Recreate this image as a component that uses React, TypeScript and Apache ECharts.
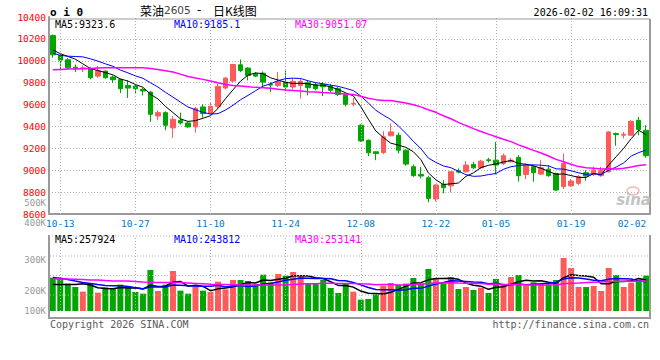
import React, { useEffect, useRef } from 'react';
import * as echarts from 'echarts';

const dates = [
  '10-10','10-13','10-14','10-15','10-16','10-17','10-20','10-21','10-22','10-23',
  '10-24','10-27','10-28','10-29','10-30','10-31','11-03','11-04','11-05','11-06',
  '11-07','11-10','11-11','11-12','11-13','11-14','11-17','11-18','11-19','11-20',
  '11-21','11-24','11-25','11-26','11-27','11-28','12-01','12-02','12-03','12-04',
  '12-05','12-08','12-09','12-10','12-11','12-12','12-15','12-16','12-17','12-18',
  '12-19','12-22','12-23','12-24','12-25','12-26','12-29','12-30','12-31','01-05',
  '01-06','01-07','01-08','01-09','01-12','01-13','01-14','01-15','01-16','01-19',
  '01-20','01-21','01-22','01-23','01-26','01-27','01-28','01-29','01-30','02-02'
];
const dateLabels = ['10-13','10-27','11-10','11-24','12-08','12-22','01-05','01-19','02-02'];

const opens = [
  10230,10048,10009,9942,9930,9927,9860,9906,9851,9830,
  9775,9769,9739,9714,9496,9526,9387,9456,9432,9396,
  9578,9517,9584,9751,9815,9963,9933,9881,9887,9784,
  9775,9805,9760,9775,9799,9781,9784,9766,9745,9690,
  9605,9411,9274,9168,9162,9314,9320,9183,9032,8962,
  8931,8737,8871,8858,8995,8986,9053,9022,9095,9092,
  9062,9077,9117,8962,9032,8965,9010,8971,8850,8858,
  8880,8977,8962,8950,8986,9335,9320,9320,9456,9365
];
const closes = [
  10054,10006,9936,9927,9936,9845,9909,9845,9827,9745,
  9751,9745,9724,9511,9526,9411,9465,9432,9396,9563,
  9517,9584,9766,9842,9966,9912,9866,9860,9805,9778,
  9812,9760,9812,9812,9754,9745,9763,9730,9693,9602,
  9611,9268,9159,9153,9305,9350,9183,9056,8950,8947,
  8743,8865,8840,8986,8983,9047,9022,9083,9089,9047,
  9132,9092,8950,9047,8977,9022,8950,8819,9062,8901,
  8941,8947,9001,8995,9350,9326,9329,9447,9371,9132
];
const lows = [
  10027,9912,9921,9897,9897,9830,9845,9836,9799,9705,
  9660,9705,9684,9441,9456,9365,9296,9417,9387,9344,
  9481,9502,9563,9739,9805,9897,9821,9851,9766,9714,
  9760,9730,9739,9654,9684,9730,9678,9714,9678,9584,
  9584,9259,9129,9092,9147,9314,9153,9041,8940,8925,
  8707,8713,8789,8798,8971,8980,9010,9010,9071,8962,
  9047,9071,8895,8919,8895,8956,8940,8810,8828,8849,
  8865,8904,8947,8940,8980,9223,9290,9311,9320,9114
];
const highs = [
  10240,10060,10024,9966,9957,9942,9951,9912,9866,9836,
  9821,9781,9751,9724,9547,9538,9496,9526,9441,9578,
  9602,9617,9790,9851,9972,10012,9942,9897,9903,9805,
  9897,9912,9842,9842,9821,9805,9805,9790,9760,9699,
  9660,9420,9280,9174,9356,9426,9344,9192,9053,9030,
  8950,8871,8910,8992,9016,9083,9077,9095,9113,9259,
  9153,9113,9138,9062,9047,9092,9047,8977,9153,8919,
  8956,9001,9032,9032,9356,9344,9350,9456,9487,9411
];
const ma5 = [
  10100,10065,10040,10015,9972,9930,9911,9892,9872,9834,
  9815,9783,9758,9695,9651,9583,9527,9469,9446,9453,
  9475,9498,9565,9654,9735,9814,9870,9889,9882,9844,
  9824,9803,9793,9795,9790,9777,9777,9761,9737,9707,
  9680,9581,9467,9359,9299,9247,9230,9209,9169,9097,
  8976,8912,8869,8876,8883,8944,8976,9024,9045,9058,
  9075,9089,9062,9054,9040,9018,8989,8963,8966,8951,
  8935,8934,8970,8957,9047,9124,9200,9289,9365,9323.6
];
const ma10 = [
  10070,10050,10042,10039,10036,10018,9997,9972,9950,9915,
  9890,9862,9840,9800,9760,9712,9668,9622,9578,9552,
  9529,9513,9517,9550,9594,9644,9684,9727,9768,9790,
  9819,9837,9841,9838,9817,9800,9790,9777,9766,9748,
  9728,9679,9614,9548,9503,9463,9405,9338,9264,9198,
  9111,9071,9039,9023,8990,8960,8944,8947,8960,8970,
  9009,9032,9043,9049,9049,9046,9039,9013,9010,8995,
  8976,8962,8967,8962,8999,9029,9067,9130,9161,9185.1
];
const ma30 = [
  9918,9921,9924,9924,9927,9930,9933,9936,9936,9936,
  9936,9936,9936,9930,9921,9909,9897,9878,9857,9842,
  9830,9815,9799,9784,9775,9769,9763,9757,9754,9748,
  9740,9732,9728,9724,9718,9715,9710,9706,9702,9697,
  9692,9676,9657,9645,9638,9636,9626,9614,9599,9579,
  9553,9529,9498,9470,9437,9408,9380,9354,9330,9306,
  9283,9261,9232,9207,9181,9157,9130,9099,9078,9055,
  9033,9022,9017,9012,9013,9012,9017,9030,9044,9051.07
];
const volumes = [
  266700,260000,236700,220000,196700,236700,191700,218300,210000,231700,
  225000,195000,186700,305000,200000,231700,300000,201700,186700,223300,
  201700,195000,246700,208300,255000,255000,250000,233300,281700,243300,
  285000,276700,295000,280000,240000,240000,255000,215000,190000,240000,
  196700,156700,160000,183300,226700,240000,230000,236700,265000,236700,
  310000,263300,238300,270000,210000,220000,205000,216700,190000,260000,
  233300,270000,280000,225000,243300,238300,233300,255000,365000,315000,
  220000,220000,225000,200000,315000,280000,220000,242000,258000,277000
];
const volMa5 = [
  233000,233000,233000,233000,236000,230000,216400,212700,210700,217700,
  215300,216000,209700,228700,222300,223700,244700,247700,224000,228700,
  222700,201700,210700,215000,221300,232000,243000,240300,255000,252700,
  258700,264000,276300,276000,275300,266300,262000,246000,228000,228000,
  219300,199700,188700,187300,184700,193300,208000,223300,239700,241700,
  255700,262300,262700,263700,258300,240300,228700,224300,208300,218300,
  221000,234000,246700,253700,250300,251300,244000,239000,267000,281300,
  277700,275000,269000,236000,236000,248000,248000,251400,263000,255400
];
const volMa10 = [
  268000,264000,258000,250000,243000,238000,232000,228000,226000,226800,
  222700,216200,211200,219700,220000,219500,230300,228700,226300,225500,
  223200,223200,229200,219500,225000,227300,222300,225500,235000,237000,
  245300,253500,258300,265500,264000,262500,263000,261200,252000,251700,
  242800,230800,217300,207700,206300,206300,203800,206000,213500,213200,
  224500,235200,243000,251700,250000,248000,245500,243500,236000,238300,
  230700,231300,235500,231000,234300,236200,239000,242800,260300,265800,
  264500,259500,254000,251500,258700,262800,261500,260200,249500,245700
];
const volMa30 = [
  260000,260000,260000,259000,257000,255000,255000,252000,250000,250000,
  250000,248000,245000,244000,243000,243000,243000,242000,240000,238000,
  236000,234000,233000,232000,231000,230000,230000,230000,230000,229800,
  230400,231000,232900,234900,236400,236500,238600,238500,237800,238100,
  237200,235900,235000,231000,231900,232200,229800,231000,233600,234000,
  237600,239900,239600,241700,240200,239000,237500,237000,233900,234500,
  232700,232500,232000,230200,230300,230200,229500,230800,236700,239200,
  240000,242100,244300,244800,247800,249100,248800,249000,248700,250100
];

const priceMALabels = ['MA5:9323.6', 'MA10:9185.1', 'MA30:9051.07'];
const volMALabels = ['MA5:257924', 'MA10:243812', 'MA30:253141'];
const volTickLabels = ['500K', '400K', '300K', '200K', '100K'];

const RED = '#ff5a5a';
const GREEN = '#00a600';
const MA_COLORS = ['#000000', '#0000ff', '#ff00ff'];
const FRAME = '#9a9a9a';
const GRIDC = '#b0b0b0';
const MONO = 'DejaVu Sans Mono';
const CJK = 'Noto Sans CJK SC';

export default function App() {
  const ref = useRef<HTMLDivElement>(null);

  useEffect(() => {
    if (!ref.current) return;
    const chart = echarts.init(ref.current, null, { renderer: 'svg' });

    const candleData = dates.map((_, i) => [opens[i], closes[i], lows[i], highs[i]]);
    const volData = volumes.map((v, i) => ({
      value: v,
      itemStyle: { color: closes[i] >= opens[i] ? RED : GREEN },
    }));
    const vLines = dateLabels.filter((d) => d !== '02-02').map((d) => ({ xAxis: d }));
    const markLine = {
      silent: true,
      symbol: ['none', 'none'],
      label: { show: false },
      lineStyle: { color: GRIDC, type: [1, 2], width: 1 },
      data: vLines,
    };

    const txt = (x: number, y: number, text: string, fill: string, extra: any = {}) => ({
      type: 'text',
      x,
      y,
      silent: true,
      style: {
        text,
        fill,
        fontFamily: MONO,
        fontSize: 10,
        verticalAlign: 'middle',
        ...extra,
      },
      z: 100,
    });
    const line = (x1: number, y1: number, x2: number, y2: number, w: number, dash?: number[]) => ({
      type: 'line',
      silent: true,
      shape: { x1, y1, x2, y2 },
      style: { stroke: dash ? GRIDC : FRAME, lineWidth: w, lineDash: dash },
      z: 50,
    });

    const legendX = [55, 174, 295];
    const volLabelY = [202.5, 223, 260, 291, 311];

    const graphics: any[] = [
      line(49, 19, 650, 19, 1),
      line(650, 19, 650, 214, 2),
      line(49, 236, 650, 236, 1, [1, 2]),
      line(49, 235, 49, 319, 2),
      line(49, 318, 650, 318, 2),
      line(650, 235, 650, 319, 2),
      line(50, 256, 649, 256, 1, [1, 2]),
      line(50, 275.5, 649, 275.5, 1, [1, 2]),
      line(50, 295, 649, 295, 1, [1, 2]),
      txt(50, 12, 'o i 0', '#000', { fontWeight: 'bold', fontSize: 11 }),
      txt(140, 10, '菜油', '#000', { fontFamily: CJK, fontSize: 12 }),
      txt(164, 10, '2605', '#444', { fontFamily: 'DejaVu Sans', fontSize: 10.5 }),
      txt(197, 10, '-', '#000', { fontFamily: 'DejaVu Sans', fontSize: 12 }),
      txt(213, 10, '日K线图', '#000', { fontFamily: CJK, fontSize: 12 }),
      txt(648, 12, '2026-02-02 16:09:31', '#000', { align: 'right' }),
      txt(50, 324, 'Copyright 2026 SINA.COM', '#5a5a5a'),
      txt(649, 324, 'http://finance.sina.com.cn', '#5a5a5a', { align: 'right' }),
      txt(651, 200, 'sina', '#c4c4c4', { align: 'right', fontFamily: 'DejaVu Sans', fontWeight: 'bold', fontStyle: 'italic', fontSize: 15 }),
      {
        type: 'ellipse',
        silent: true,
        shape: { cx: 633, cy: 191, rx: 6, ry: 4 },
        style: { fill: 'none', stroke: '#f2b8b8', lineWidth: 1.5 },
        z: 99,
      },
    ];
    priceMALabels.forEach((t, i) => graphics.push(txt(legendX[i], 24, t, MA_COLORS[i])));
    volMALabels.forEach((t, i) => graphics.push(txt(legendX[i], 239.5, t, MA_COLORS[i])));
    volTickLabels.forEach((t, i) =>
      graphics.push(txt(46, volLabelY[i], t, '#999', { align: 'right', fontSize: 9, lineHeight: 8 }))
    );

    const maLine = (name: string, data: number[], color: string, w: number, xi: number) => ({
      name,
      type: 'line',
      xAxisIndex: xi,
      yAxisIndex: xi,
      data,
      symbol: 'none',
      showSymbol: false,
      silent: true,
      lineStyle: { color, width: w },
      itemStyle: { color },
      z: 5,
    });

    const option: any = {
      animation: false,
      backgroundColor: '#ffffff',
      grid: [
        { left: 49, top: 17, width: 601, height: 197 },
        { left: 49, top: 236, width: 601, height: 75 },
      ],
      xAxis: [
        {
          type: 'category',
          gridIndex: 0,
          data: dates,
          boundaryGap: true,
          axisLine: { show: true, lineStyle: { color: FRAME, width: 2 } },
          axisTick: { show: false },
          axisLabel: {
            interval: (_i: number, v: string) => dateLabels.includes(v),
            color: '#0878c8',
            fontFamily: MONO,
            fontSize: 9.5,
            margin: 4,
            hideOverlap: false,
            alignMaxLabel: 'right',
          },
          splitLine: { show: false },
        },
        {
          type: 'category',
          gridIndex: 1,
          data: dates,
          boundaryGap: true,
          axisLine: { show: false },
          axisTick: { show: false },
          axisLabel: { show: false },
          splitLine: { show: false },
        },
      ],
      yAxis: [
        {
          type: 'value',
          gridIndex: 0,
          min: 8600,
          max: 10400,
          interval: 200,
          axisLine: { show: true, lineStyle: { color: FRAME, width: 2 } },
          axisTick: { show: false },
          axisLabel: {
            color: '#ff0000',
            fontFamily: MONO,
            fontSize: 9.5,
            lineHeight: 8,
            margin: 3,
            formatter: (v: number) => String(v),
          },
          splitLine: {
            show: true,
            showMinLine: false,
            showMaxLine: false,
            lineStyle: { color: GRIDC, type: [1, 2], width: 1 },
          },
        },
        {
          type: 'value',
          gridIndex: 1,
          min: 100000,
          max: 475000,
          axisLine: { show: false },
          axisTick: { show: false },
          axisLabel: { show: false },
          splitLine: { show: false },
        },
      ],
      series: [
        {
          type: 'candlestick',
          xAxisIndex: 0,
          yAxisIndex: 0,
          data: candleData,
          barWidth: 5,
          silent: true,
          itemStyle: {
            color: RED,
            color0: GREEN,
            borderColor: RED,
            borderColor0: GREEN,
            borderColorDoji: RED,
            borderWidth: 1,
          },
          markLine,
        },
        maLine('MA5', ma5, MA_COLORS[0], 1, 0),
        maLine('MA10', ma10, MA_COLORS[1], 1, 0),
        maLine('MA30', ma30, MA_COLORS[2], 1.5, 0),
        {
          type: 'bar',
          xAxisIndex: 1,
          yAxisIndex: 1,
          data: volData,
          barWidth: 6,
          silent: true,
          markLine,
        },
        maLine('VMA5', volMa5, MA_COLORS[0], 1.5, 1),
        maLine('VMA10', volMa10, MA_COLORS[1], 1.5, 1),
        maLine('VMA30', volMa30, MA_COLORS[2], 1.5, 1),
      ],
      graphic: { elements: graphics },
    };

    chart.setOption(option);
    return () => chart.dispose();
  }, []);

  return (
    <div
      ref={ref}
      style={{ position: 'absolute', left: 0, top: 0, width: 660, height: 360, background: '#fff' }}
    />
  );
}
